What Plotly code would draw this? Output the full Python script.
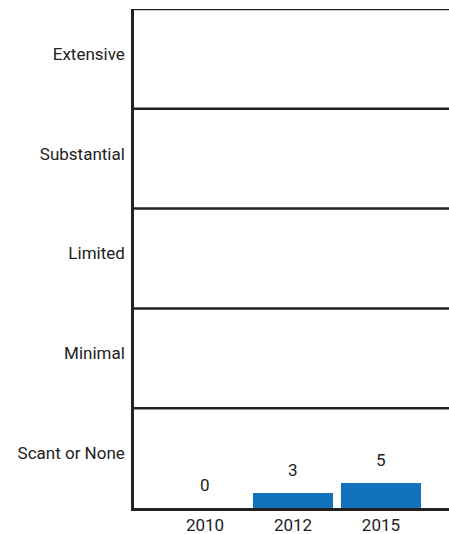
import plotly.graph_objects as go

years = ["2010", "2012", "2015"]
values = [0, 3, 5]
levels = ["Scant or None", "Minimal", "Limited", "Substantial", "Extensive"]
level_pos = [11, 31, 51, 71, 91]
band_edges = [20, 40, 60, 80, 100]

xpos = list(range(len(years)))
FONT = "Roboto"
INK = "#222222"

fig = go.Figure()
fig.add_trace(go.Bar(
    x=xpos, y=values, width=0.91,
    marker=dict(color="#1272BC", line=dict(width=0)),
    cliponaxis=False,
))
for xp, v in zip(xpos, values):
    fig.add_annotation(
        x=xp, y=v, text=str(v), showarrow=False,
        yanchor="bottom", yshift=11,
        font=dict(family=FONT, size=17, color=INK),
    )

fig.update_layout(
    width=449, height=534,
    margin=dict(l=134, r=0, t=9, b=26),
    paper_bgcolor="white", plot_bgcolor="white",
    showlegend=False,
    font=dict(family=FONT, size=17, color=INK),
    xaxis=dict(
        range=[-0.807, 2.773], tickvals=xpos, ticktext=years,
        showgrid=False, zeroline=False, showline=True,
        linecolor=INK, linewidth=2.5, ticks="",
        tickfont=dict(size=17),
    ),
    yaxis=dict(
        range=[0, 100], tickvals=level_pos, ticktext=levels,
        showgrid=False, zeroline=False, showline=True,
        linecolor=INK, linewidth=2.5, ticks="",
        tickfont=dict(size=17), ticklabelstandoff=3,
    ),
)
for e in band_edges:
    fig.add_hline(y=e, line=dict(color=INK, width=2.5), layer="above")

fig.write_html(
    "out.html",
    config={"displayModeBar": False},
    post_script="document.body.style.margin='0';document.body.style.overflow='hidden';",
)
